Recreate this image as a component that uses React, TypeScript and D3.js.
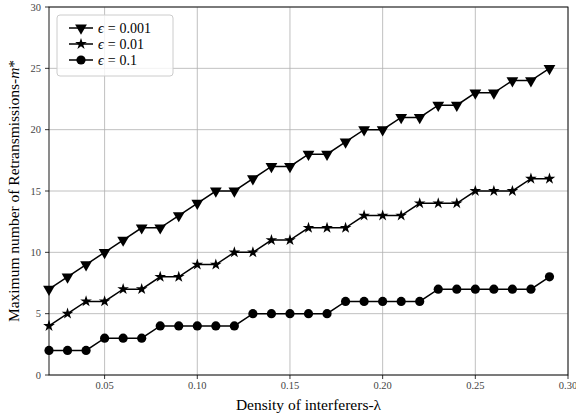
import * as d3 from 'd3'
import React from 'react'

const lambdas = [0.02, 0.03, 0.04, 0.05, 0.06, 0.07, 0.08, 0.09, 0.10, 0.11, 0.12, 0.13, 0.14, 0.15,
  0.16, 0.17, 0.18, 0.19, 0.20, 0.21, 0.22, 0.23, 0.24, 0.25, 0.26, 0.27, 0.28, 0.29]
const eps001 = [7, 8, 9, 10, 11, 12, 12, 13, 14, 15, 15, 16, 17, 17, 18, 18, 19, 20, 20, 21, 21, 22, 22, 23, 23, 24, 24, 25]
const eps01 = [4, 5, 6, 6, 7, 7, 8, 8, 9, 9, 10, 10, 11, 11, 12, 12, 12, 13, 13, 13, 14, 14, 14, 15, 15, 15, 16, 16]
const eps1 = [2, 2, 2, 3, 3, 3, 4, 4, 4, 4, 4, 5, 5, 5, 5, 5, 6, 6, 6, 6, 6, 7, 7, 7, 7, 7, 7, 8]
const seriesNames = ['0.001', '0.01', '0.1']
const xTicks = [0.05, 0.10, 0.15, 0.20, 0.25, 0.30]
const yTicks = [0, 5, 10, 15, 20, 25, 30]

const W = 576, H = 417
const m = { left: 49, right: 8, top: 7, bottom: 42 }
const font = '"Liberation Serif", "DejaVu Serif", serif'

const Marker = ({ kind, x, y }: { kind: number, x: number, y: number }) => {
  if (kind === 0) {
    const p = d3.symbol(d3.symbolTriangle, 60)()!
    return <path d={p} transform={`translate(${x},${y}) rotate(180)`} fill='#000' />
  }
  if (kind === 1) {
    const p = d3.symbol(d3.symbolStar, 42)()!
    return <path d={p} transform={`translate(${x},${y})`} fill='#000' />
  }
  return <circle cx={x} cy={y} r={4.6} fill='#000' />
}

export default function App() {
  const
    x = d3.scaleLinear().domain([0.02, 0.30]).range([m.left, W - m.right]),
    y = d3.scaleLinear().domain([0, 30]).range([H - m.bottom, m.top]),
    line = d3.line<number>().x((_, i) => x(lambdas[i])).y(d => y(d)),
    series = [eps001, eps01, eps1]

  return (
    <svg width={W} height={H} style={{ position: 'absolute', left: 0, top: 0 }} fontFamily={font}>
      <rect width={W} height={H} fill='#fff' />
      {xTicks.map(t => (
        <line key={'gx' + t} x1={x(t)} x2={x(t)} y1={m.top} y2={H - m.bottom} stroke='#b0b0b0' strokeWidth={0.8} />
      ))}
      {yTicks.map(t => (
        <line key={'gy' + t} x1={m.left} x2={W - m.right} y1={y(t)} y2={y(t)} stroke='#b0b0b0' strokeWidth={0.8} />
      ))}
      {series.map((s, k) => (
        <g key={k}>
          <path d={line(s)!} fill='none' stroke='#000' strokeWidth={1.5} />
          {s.map((v, i) => <Marker key={i} kind={k} x={x(lambdas[i])} y={y(v)} />)}
        </g>
      ))}
      <rect x={m.left} y={m.top} width={W - m.left - m.right} height={H - m.top - m.bottom} fill='none' stroke='#000' strokeWidth={0.9} />
      {xTicks.map(t => (
        <g key={'tx' + t}>
          <line x1={x(t)} x2={x(t)} y1={H - m.bottom} y2={H - m.bottom + 4} stroke='#000' strokeWidth={0.8} />
          <text x={x(t)} y={H - m.bottom + 14} textAnchor='middle' fontSize={10.5} fill='#444'>{t.toFixed(2)}</text>
        </g>
      ))}
      {yTicks.map(t => (
        <g key={'ty' + t}>
          <line x1={m.left - 4} x2={m.left} y1={y(t)} y2={y(t)} stroke='#000' strokeWidth={0.8} />
          <text x={m.left - 8} y={y(t) + 3.5} textAnchor='end' fontSize={10.5} fill='#444'>{t}</text>
        </g>
      ))}
      <text x={(m.left + W - m.right) / 2} y={H - 7} textAnchor='middle' fontSize={15.5}>
        Density of interferers-λ
      </text>
      <text transform={`translate(19,${(m.top + H - m.bottom) / 2}) rotate(-90)`} textAnchor='middle' fontSize={15.5}>
        Maximum number of Retransmissions-<tspan fontStyle='italic'>m</tspan>*
      </text>
      <g transform='translate(57,15)'>
        <rect width={116} height={61} rx={3} fill='#fff' fillOpacity={0.8} stroke='#ccc' strokeWidth={1} />
        {seriesNames.map((n, k) => (
          <g key={n} transform={`translate(0,${13 + k * 16})`}>
            <line x1={12} x2={36} y1={0} y2={0} stroke='#000' strokeWidth={1.5} />
            <Marker kind={k} x={24} y={0} />
            <text x={41} y={5} fontSize={14}>
              <tspan fontStyle='italic'>ϵ</tspan>
              <tspan dx={4}>=</tspan>
              <tspan dx={4}>{n}</tspan>
            </text>
          </g>
        ))}
      </g>
    </svg>
  )
}
